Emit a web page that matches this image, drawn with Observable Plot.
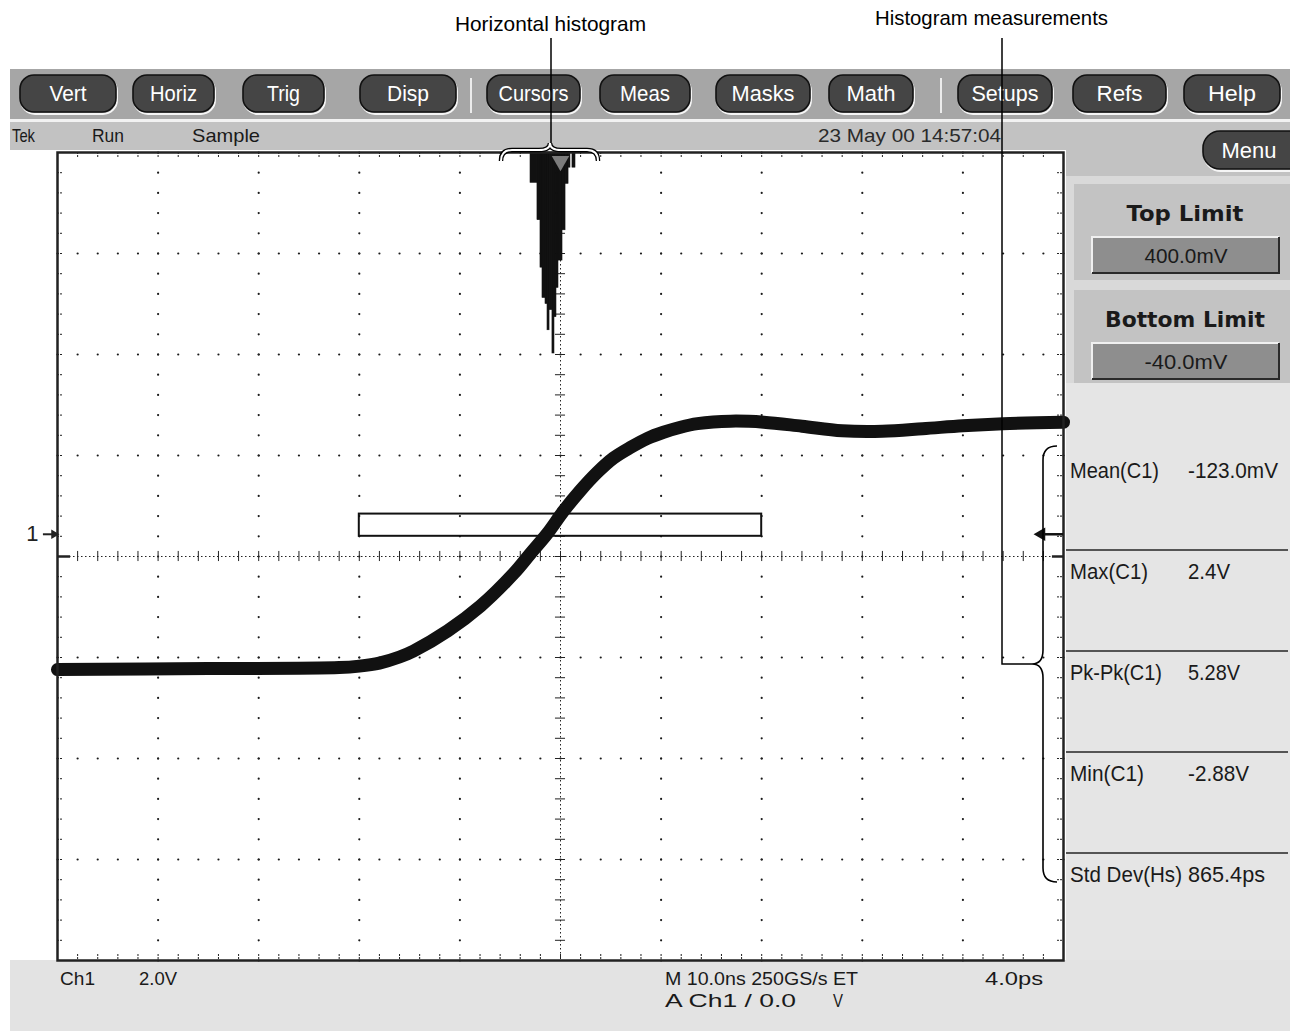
<!DOCTYPE html>
<html><head><meta charset="utf-8">
<script src="https://cdn.jsdelivr.net/npm/d3@7"></script>
<script src="https://cdn.jsdelivr.net/npm/@observablehq/plot@0.6"></script>
<style>
body{margin:0;background:#fff;}
#root{position:relative;width:1290px;height:1031px;overflow:hidden;background:#fff;}
#root > svg{position:absolute;}
</style></head><body><div id="root"></div>
<script>
// ---------------- DATA ----------------
// Acquired waveform (time in ns relative to trigger, amplitude in volts)
const waveTimeNs = [-50, -35, -22, -20, -18, -16, -14.6, -11.2, -7.95, -4.67, -2.98, -1.29, 0.30, 1.99, 3.68, 5.27, 6.96, 8.65, 10.24, 11.93, 13.62, 16.9, 20.2, 24, 28, 32, 36, 40, 44, 50];
const waveVolts  = [-2.68, -2.66, -2.64, -2.61, -2.55, -2.43, -2.31, -1.91, -1.42, -0.78, -0.38, 0.02, 0.46, 0.87, 1.23, 1.51, 1.72, 1.90, 2.02, 2.12, 2.19, 2.24, 2.22, 2.14, 2.05, 2.04, 2.09, 2.15, 2.19, 2.22];
// Horizontal histogram bins (ns) and bar depth (divisions)
const histStartNs  = [-2.98, -2.29, -1.99, -1.79, -1.49, -1.29, -1.09, -0.80, -0.60, -0.40, -0.20, 0.20, 0.50, 0.80, 1.19];
const histEndNs    = [-2.29, -1.99, -1.79, -1.49, -1.29, -1.09, -0.80, -0.60, -0.40, -0.20, 0.20, 0.50, 0.80, 0.99, 1.49];
const histDepthDiv = [0.30, 0.67, 1.14, 1.44, 1.50, 1.76, 1.56, 1.99, 1.63, 1.34, 1.07, 0.77, 0.31, 0.15, 0.15];
// Histogram box limits
const boxTimeNs = [-20, 20];
const boxVolts = [-0.040, 0.400];
// Scope settings
const voltsPerDiv = 2.0, nsPerDiv = 10, offsetDiv = 0.22, trigLevelV = 0.0, groundV = 0.0, triggerTimeNs = 0;
// Texts
const menuLabels = ["Vert", "Horiz", "Trig", "Disp", "Cursors", "Meas", "Masks", "Math", "Setups", "Refs", "Help"];
const statusLabels = ["Tek", "Run", "Sample"];
const dateLabel = "23 May 00 14:57:04";
const limitTitles = ["Top Limit", "Bottom Limit"];
const limitValues = ["400.0mV", "-40.0mV"];
const measLabels = ["Mean(C1)", "Max(C1)", "Pk-Pk(C1)", "Min(C1)", "Std Dev(Hs)"];
const measValues = ["-123.0mV", "2.4V", "5.28V", "-2.88V", "865.4ps"];
const bottomLabels = ["Ch1", "2.0V", "M 10.0ns 250GS/s ET", "4.0ps", "A Ch1 / 0.0", "V"];
const calloutLabels = ["Horizontal histogram", "Histogram measurements"];

// ---------------- LAYOUT ----------------
const W = 1290, H = 1031;
const UI = "'Liberation Sans Narrow','Arial Narrow','Liberation Sans',Arial,sans-serif";
const root = d3.select("#root");

function txt(g, s, x, y, o = {}) {
  const t = g.append("text").attr("x", x).attr("y", y)
    .attr("font-size", o.size || 18).attr("font-family", o.family || UI)
    .attr("font-weight", o.weight || "normal").attr("fill", o.fill || "#1a1a1a")
    .attr("text-anchor", o.anchor || "start").text(s);
  if (o.len) t.attr("textLength", o.len).attr("lengthAdjust", "spacingAndGlyphs");
  return t;
}
function rect(g, x, y, w, h, fill, extra = {}) {
  const r = g.append("rect").attr("x", x).attr("y", y).attr("width", w).attr("height", h).attr("fill", fill);
  for (const k in extra) r.attr(k, extra[k]);
  return r;
}

// background chrome
const bg = root.append("svg").attr("width", W).attr("height", H).style("left", "0px").style("top", "0px");
rect(bg, 10, 69, 1280, 50, "#a6a6a6");
rect(bg, 10, 119, 1280, 3, "#f2f2f2");
rect(bg, 10, 122, 1280, 28, "#c2c2c2");
// right column
rect(bg, 1066, 150, 224, 26, "#c2c2c2");
rect(bg, 1066, 176, 224, 207, "#d9d9d9");
rect(bg, 1066, 383, 224, 650, "#e5e5e5");
rect(bg, 10, 960, 1280, 71, "#e3e3e3");

const buttonSpans = [[20,116],[133,214],[243,324],[360,456],[487,580],[600,690],[716,810],[829,913],[958,1052],[1073,1166],[1184,1280]];
const labelWidths = [37, 47, 33, 42, 70, 50, 63, 49, 67, 46, 48];
menuLabels.forEach((lab, i) => {
  const [a, b] = buttonSpans[i];
  rect(bg, a + 1, 77, b - a, 37, "none", {rx: 14, stroke: "#f5f5f5", "stroke-width": 2});
  rect(bg, a, 75, b - a, 37, "#454545", {rx: 14, stroke: "#111", "stroke-width": 1.6});
  txt(bg, lab, (a + b) / 2, 101, {size: 22, anchor: "middle", len: labelWidths[i], fill: "#fff"});
});
[471, 941].forEach(x => bg.append("line").attr("x1", x).attr("x2", x).attr("y1", 78).attr("y2", 113).attr("stroke", "#ececec").attr("stroke-width", 2));

// status row
const statusX = [[12, 23], [92, 32], [192, 68]];
statusLabels.forEach((s, i) => txt(bg, s, statusX[i][0], 142, {size: 19, len: statusX[i][1]}));
txt(bg, dateLabel, 818, 142, {size: 19, len: 183, fill: "#2a2a2a"});

// Menu button
rect(bg, 1204, 133, 110, 38, "none", {rx: 17, stroke: "#f5f5f5", "stroke-width": 2});
rect(bg, 1203, 131, 110, 38, "#454545", {rx: 17, stroke: "#111", "stroke-width": 1.6});
txt(bg, "Menu", 1249, 158, {size: 22, anchor: "middle", len: 55, fill: "#fff"});

// limit panels
const panelY = [184, 290], panelH = [96, 93];
limitTitles.forEach((t, i) => {
  const y0 = panelY[i];
  rect(bg, 1074, y0, 216, panelH[i], "#c3c3c3");
  txt(bg, t, 1185, y0 + 37, {size: 21, anchor: "middle", weight: "bold", len: i === 0 ? 117 : 160, family: "'DejaVu Sans','Liberation Sans',Arial,sans-serif"});
  const by = y0 + 53;
  rect(bg, 1092, by, 187, 36, "#8e8e8e");
  bg.append("path").attr("d", `M1092,${by+36} L1092,${by} L1279,${by}`).attr("stroke", "#f0f0f0").attr("stroke-width", 2).attr("fill", "none");
  bg.append("path").attr("d", `M1092,${by+36} L1279,${by+36} L1279,${by}`).attr("stroke", "#2a2a2a").attr("stroke-width", 2).attr("fill", "none");
  txt(bg, limitValues[i], 1186, by + 26, {size: 21, anchor: "middle", len: 83});
});

// measurement rows
const rowBase = [478, 579, 680, 781, 882];
const labLen = [89, 78, 92, 74, 112], valLen = [90, 42, 52, 61, 77];
measLabels.forEach((m, i) => {
  txt(bg, m, 1070, rowBase[i], {size: 22, len: labLen[i]});
  txt(bg, measValues[i], 1188, rowBase[i], {size: 22, len: valLen[i]});
});
[550, 651, 752, 853].forEach(y => bg.append("line").attr("x1", 1066).attr("x2", 1288).attr("y1", y).attr("y2", y).attr("stroke", "#555").attr("stroke-width", 2));

// bottom readouts
const botPos = [[60, 985, 35], [139, 985, 38], [665, 985, 193], [985, 985, 58], [665, 1007, 131], [833, 1007, 10]];
bottomLabels.forEach((s, i) => txt(bg, s, botPos[i][0], botPos[i][1], {size: 19, len: botPos[i][2]}));

// ---------------- PLOT (graticule) ----------------
const centerV = -offsetDiv * voltsPerDiv;
const yDomain = [centerV - 4 * voltsPerDiv, centerV + 4 * voltsPerDiv];
const yTop = yDomain[1];
const minorX = d3.range(0, 51).map(i => -5 * nsPerDiv + i * nsPerDiv / 5);
const minorY = d3.range(0, 41).map(i => yDomain[0] + i * voltsPerDiv / 5);
const majorX = d3.range(-4, 5).filter(k => k !== 0).map(k => k * nsPerDiv);
const majorY = d3.range(-3, 4).filter(k => k !== 0).map(k => centerV + k * voltsPerDiv);
const gridDots = [];
for (const x of majorX) for (const y of minorY) gridDots.push({x, y});
for (const y of majorY) for (const x of minorX) gridDots.push({x, y});

const wave = waveTimeNs.map((t, i) => ({t, v: waveVolts[i]}));
const hist = histStartNs.map((s, i) => ({t0: s, t1: histEndNs[i], depth: histDepthDiv[i]}));
const box = [{x1: boxTimeNs[0], x2: boxTimeNs[1], y1: boxVolts[0], y2: boxVolts[1]}];

const innerH = 808, innerW = 1006;
const tickLenV = 0.1, tickLenNs = 0.5;

const plot = Plot.plot({
  width: 1058, height: 814,
  marginLeft: 47, marginRight: 5, marginTop: 4, marginBottom: 2,
  x: {domain: [-5 * nsPerDiv, 5 * nsPerDiv], axis: null},
  y: {domain: yDomain, axis: null},
  style: {background: "transparent", overflow: "visible"},
  marks: [
    Plot.dot(gridDots, {x: "x", y: "y", r: 1.1, fill: "#1a1a1a"}),
    // center cross
    Plot.ruleY([centerV], {stroke: "#222", strokeDasharray: "1.5,2.5"}),
    Plot.ruleX([0], {stroke: "#222", strokeDasharray: "1.5,2.5"}),
    Plot.ruleX(minorX, {x: d => d, y1: centerV - tickLenV, y2: centerV + tickLenV, stroke: "#222"}),
    Plot.ruleY(minorY, {y: d => d, x1: -tickLenNs, x2: tickLenNs, stroke: "#222"}),
    // edge ticks
    Plot.tickX(minorX, {x: d => d, insetBottom: innerH - 6, stroke: "#222", strokeDasharray: "2,1"}),
    Plot.tickX(minorX, {x: d => d, insetTop: innerH - 6, stroke: "#222", strokeDasharray: "2,1"}),
    Plot.tickY(minorY, {y: d => d, insetRight: innerW - 6, stroke: "#222", strokeDasharray: "2,1"}),
    Plot.tickY(minorY, {y: d => d, insetLeft: innerW - 6, stroke: "#222", strokeDasharray: "2,1"}),
    Plot.ruleY([centerV], {x1: -50, x2: -48.7, stroke: "#222", strokeWidth: 2.5}),
    Plot.ruleY([centerV], {x1: 48.9, x2: 50, stroke: "#222", strokeWidth: 2.5}),
    // histogram
    Plot.rect(hist, {x1: "t0", x2: "t1", y1: () => yTop, y2: d => yTop - d.depth * voltsPerDiv, fill: "#111", stroke: "#111", strokeWidth: 0.6}),
    Plot.dot([triggerTimeNs], {x: d => d, y: () => yTop - 0.17, symbol: "triangle", rotate: 180, r: 6.5, fill: "#7c7c7c"}),
    // histogram limit box
    Plot.rect(box, {x1: "x1", x2: "x2", y1: "y1", y2: "y2", fill: "none", stroke: "#111", strokeWidth: 2}),
    // waveform (thick persistence band)
    Plot.line(wave, {x: "t", y: "v", stroke: "#111", strokeWidth: 13, curve: "catmull-rom", strokeLinejoin: "round"}),
    // frame
    Plot.frame({stroke: "#222", strokeWidth: 2.5}),
    // ground marker "1→" (left) and trigger level arrow (right)
    Plot.text([groundV], {x: -50, y: d => d, text: () => "1", dx: -19, textAnchor: "end", fontSize: 22, fontFamily: "'Liberation Sans',Arial,sans-serif", fill: "#222"}),
    Plot.ruleY([groundV], {x1: -51.4, x2: -50.2, stroke: "#222", strokeWidth: 2}),
    Plot.dot([groundV], {x: -50.35, y: d => d, symbol: "triangle", rotate: 90, r: 3.5, fill: "#222"}),
    Plot.ruleY([trigLevelV], {x1: 48.0, x2: 50, stroke: "#111", strokeWidth: 2.5}),
    Plot.dot([trigLevelV], {x: 47.8, y: d => d, symbol: "triangle", rotate: -90, r: 5, fill: "#111"})
  ]
});
plot.style.position = "absolute";
plot.style.left = "10px";
plot.style.top = "148px";
root.node().appendChild(plot);

// ---------------- CALLOUTS ----------------
const ov = root.append("svg").attr("width", W).attr("height", H).style("left", "0px").style("top", "0px").style("pointer-events", "none");
const brace = "M501,161 Q501,150 512,150 L539,150 Q550,150 550,143 Q550,150 561,150 L587,150 Q598,150 598,161";
ov.append("path").attr("d", brace).attr("fill", "none").attr("stroke", "#000").attr("stroke-width", 4.5);
ov.append("path").attr("d", brace).attr("fill", "none").attr("stroke", "#fff").attr("stroke-width", 2);
ov.append("line").attr("x1", 551).attr("x2", 551).attr("y1", 38).attr("y2", 143).attr("stroke", "#000").attr("stroke-width", 1.5);
ov.append("path").attr("d", "M1057,446 Q1043,446 1043,460 L1043,650 Q1043,664 1032,664 Q1043,664 1043,678 L1043,868 Q1043,882 1057,882")
  .attr("fill", "none").attr("stroke", "#000").attr("stroke-width", 1.6);
ov.append("path").attr("d", "M1002,38 L1002,664 L1032,664").attr("fill", "none").attr("stroke", "#000").attr("stroke-width", 1.5);
txt(ov, calloutLabels[0], 455, 31, {size: 21, len: 191, fill: "#000"});
txt(ov, calloutLabels[1], 875, 25, {size: 21, len: 233, fill: "#000"});
</script></body></html>
